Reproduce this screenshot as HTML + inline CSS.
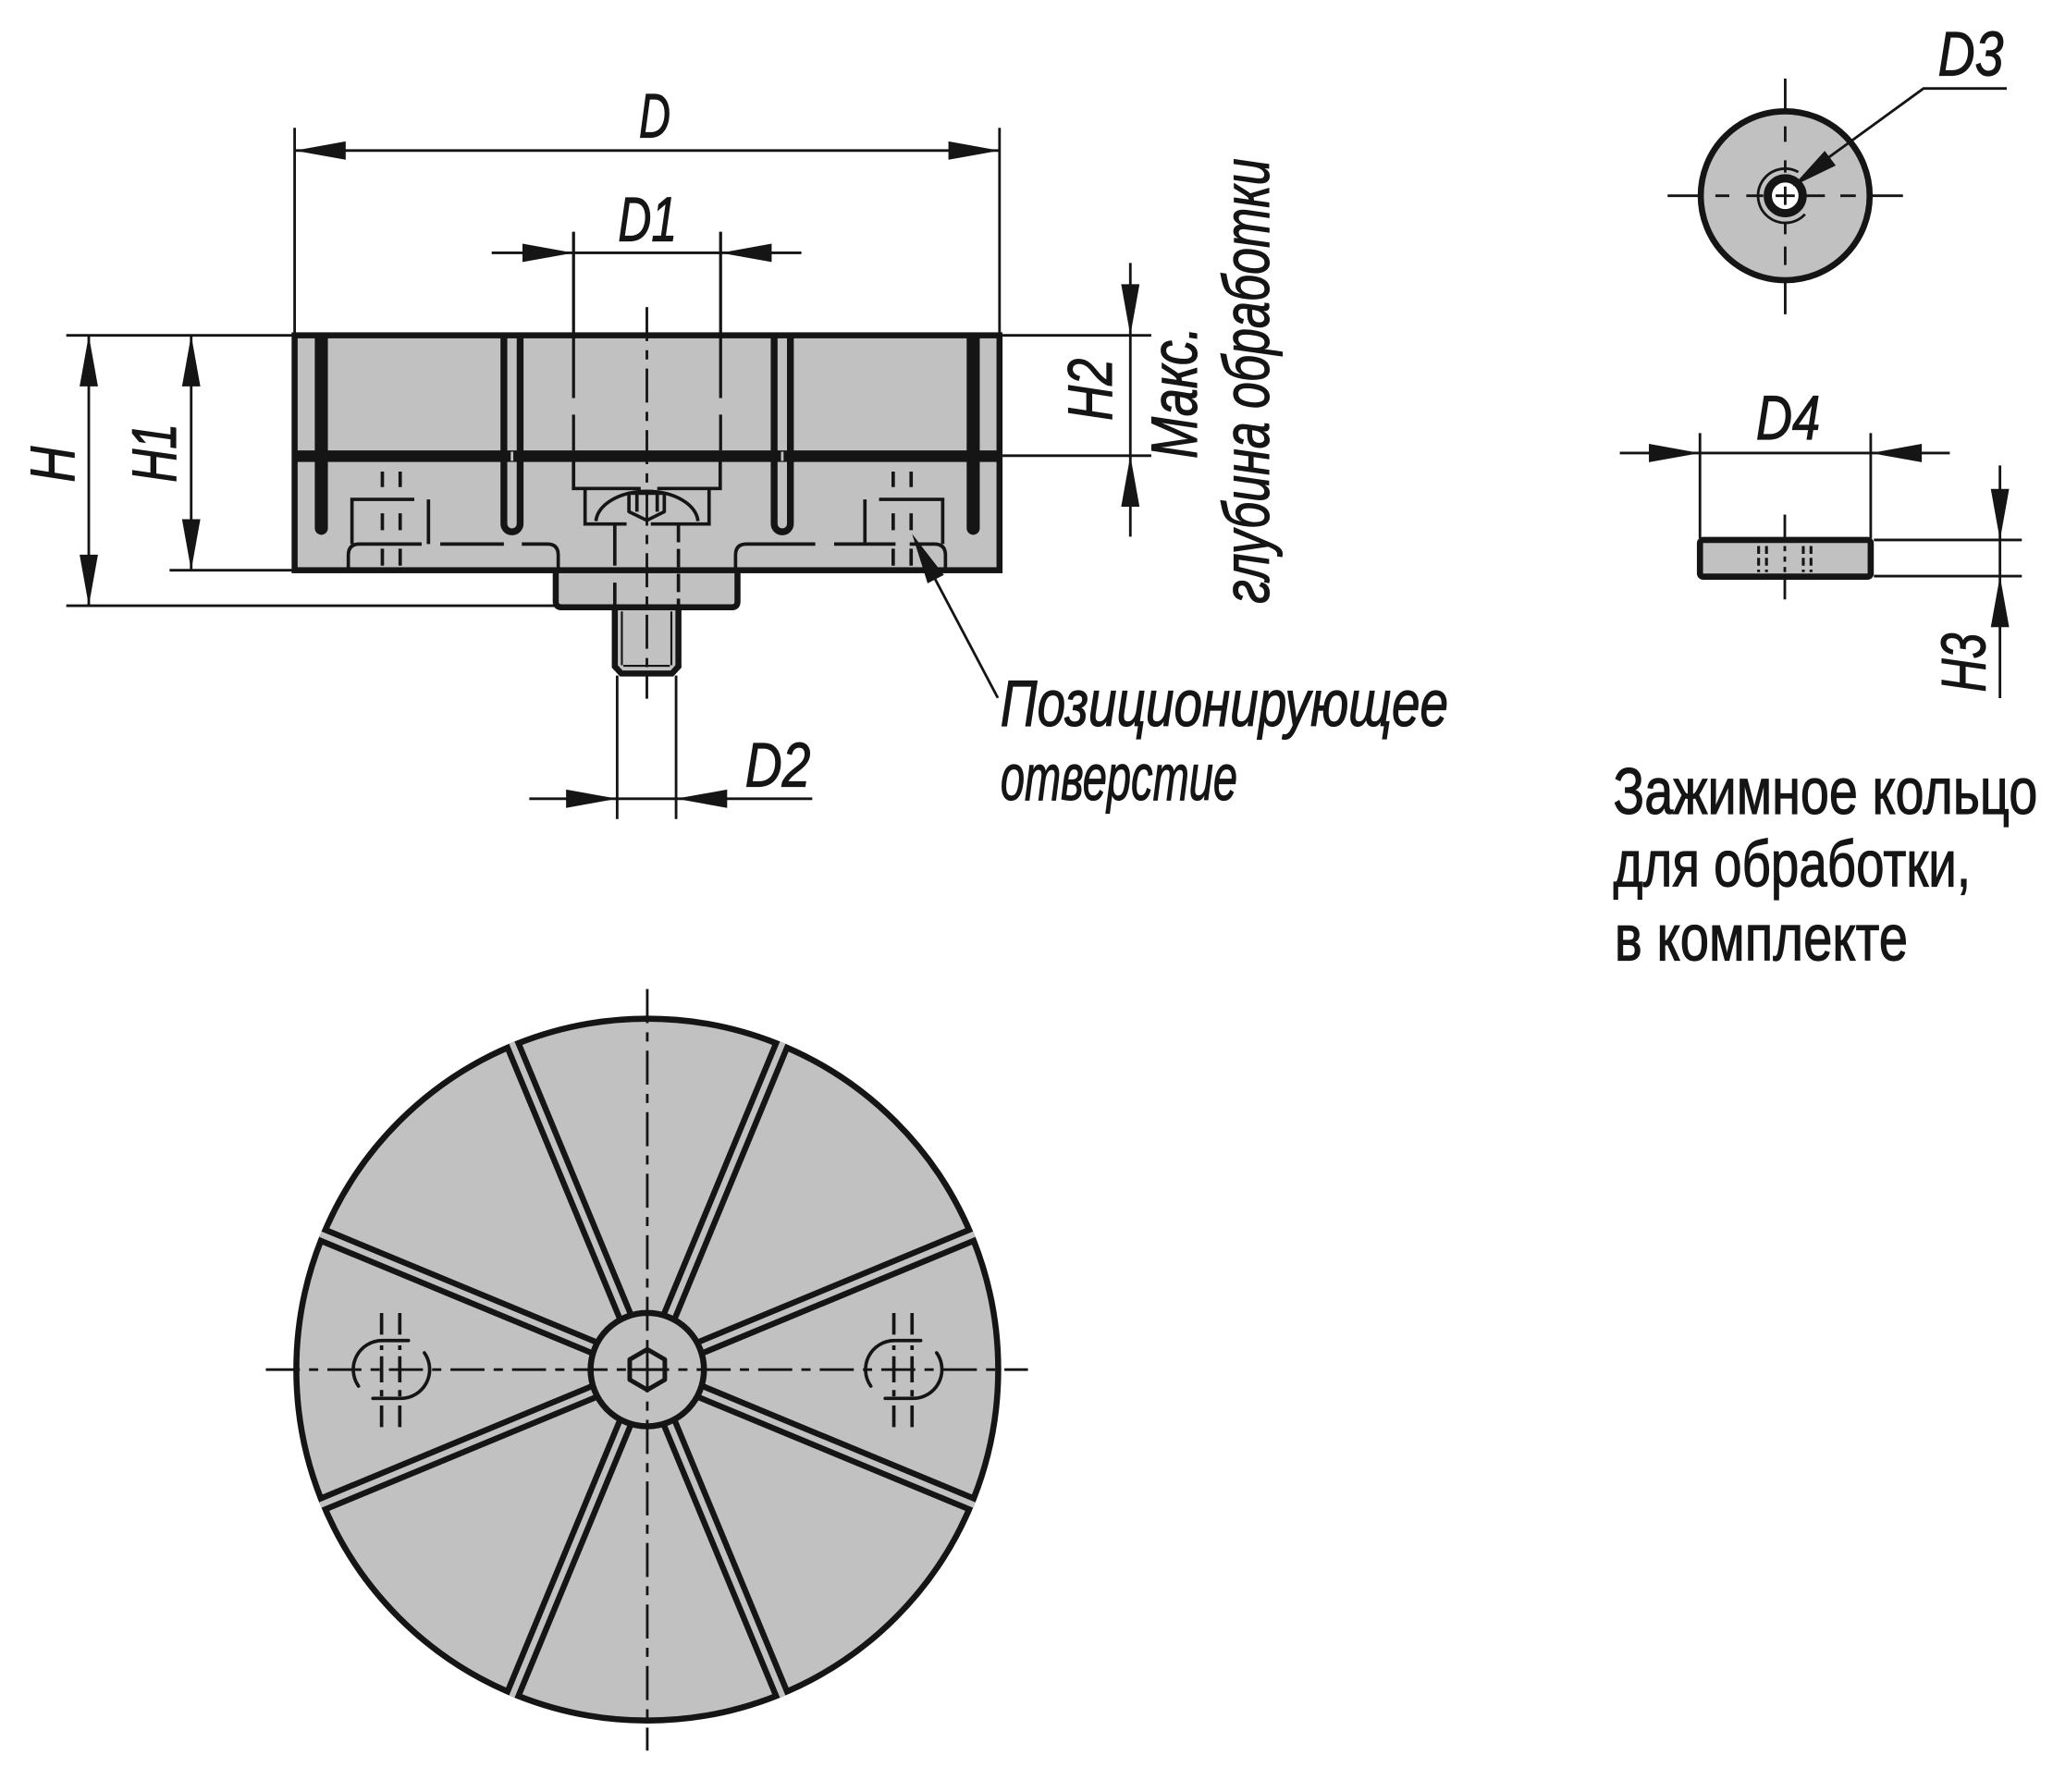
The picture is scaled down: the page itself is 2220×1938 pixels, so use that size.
<!DOCTYPE html>
<html><head><meta charset="utf-8"><style>
html,body{margin:0;padding:0;background:#fff}
svg{display:block}
</style></head><body>
<svg xmlns="http://www.w3.org/2000/svg" width="2220" height="1938" viewBox="0 0 1567.8 1368.6" preserveAspectRatio="none">
<style>
.o{stroke:#151515;stroke-width:4.6;fill:#c1c1c1}
.t{stroke:#151515;stroke-width:2;fill:none}
.h{stroke:#151515;stroke-width:2.6;fill:none}
.c{stroke:#151515;stroke-width:2;fill:none;stroke-dasharray:26 7 7 7}
.a{fill:#151515}
text{font-family:"Liberation Sans",Arial,sans-serif;font-size:48px;fill:#151515;stroke:#151515;stroke-width:0.8}
.i{font-style:italic}
.l{font-size:50px}
</style>

<!-- ===== SIDE VIEW ===== -->
<path class="o" d="M469.5 462 L469.5 509 L474.5 514.4 L513.1 514.4 L518.1 509 L518.1 462"/>
<path stroke="#151515" stroke-width="1.5" fill="none" d="M474.9 467 V508 M512.7 467 V508 M476 508.5 H511.5"/>
<path class="o" d="M424.4 434 L424.4 459.5 Q424.4 463.8 428.7 463.8 L558.9 463.8 Q563.2 463.8 563.2 459.5 L563.2 434"/>
<rect class="o" x="225" y="256.1" width="538.3" height="179.4"/>
<rect x="225" y="344" width="538.3" height="8.8" fill="#151515"/>
<!-- outer slots -->
<path class="a" d="M240.4 256 V403.4 A5 5 0 0 0 250.4 403.4 V256Z"/>
<path class="a" d="M738.2 256 V403.4 A5 5 0 0 0 748.2 403.4 V256Z"/>
<!-- inner slots -->
<path d="M384.8 257V400A6.2 6.2 0 0 0 397.2 400V257" stroke="#151515" stroke-width="5.2" fill="none"/>
<path d="M591.2 257V400A6.2 6.2 0 0 0 603.6 400V257" stroke="#151515" stroke-width="5.2" fill="none"/>
<line x1="391" y1="345" x2="391" y2="352" stroke="#c1c1c1" stroke-width="2"/>
<line x1="597.4" y1="345" x2="597.4" y2="352" stroke="#c1c1c1" stroke-width="2"/>
<!-- D1 lines -->
<path stroke="#151515" stroke-width="2.3" fill="none" d="M438 177 V304 M438 316.6 V344 M550.3 177 V304 M550.3 316.6 V344"/>
<!-- pocket below band -->
<path class="h" d="M438 352 V373.1 H489.3 M501.9 373.1 H550 V352"/>
<path class="h" d="M446.8 373.1 V400.2 H478.5 M497 400.2 H541.5 V373.1"/>
<!-- screw head -->
<path class="h" d="M455.1 398 A39 24 0 0 1 533 398"/>
<path d="M480.3 376.7 H507.3 V390.8 L494 397.4 L480.3 390.8Z" fill="#c1c1c1" stroke="#151515" stroke-width="2.6" stroke-linejoin="round"/>
<path class="h" d="M486.4 376.7 V390.8 M501.9 376.7 V390.8"/>
<!-- shank -->
<path class="h" d="M469.5 400.2 V432 M469.5 445 V463"/>
<path class="h" stroke-dasharray="14 5" d="M518.1 400.2 V463"/>
<!-- hidden locating holes -->
<path class="h" d="M268.8 415.5 V381.4 H316.4 M327.2 381.4 V415.5"/>
<path class="h" d="M292 360.2V372 M292 392V404.9 M292 419V432 M305.6 360.2V372 M305.6 392V404.9 M305.6 419V432"/>
<path class="h" d="M660.5 381.4 V415.5 M671.3 381.4 H719.9 V415.5"/>
<path class="h" d="M682.1 360.2V372 M682.1 392V404.9 M682.1 419V432 M695.8 360.2V372 M695.8 392V404.9 M695.8 419V432"/>
<!-- pockets hidden -->
<path class="h" d="M266 436 V424 Q266 415.5 274.5 415.5 H322 M336.2 415.5 H384.8 M398.5 415.5 H418 Q426.3 415.5 426.3 424 V436"/>
<path class="h" d="M561.7 436 V424 Q561.7 415.5 570 415.5 H622.6 M637 415.5 H683.9 M694.7 415.5 H713.5 Q722 415.5 722 424 V436"/>
<!-- axis -->
<line class="c" x1="494" y1="234.5" x2="494" y2="533.6"/>

<!-- leader Позиционирующее -->
<line class="t" x1="705" y1="425" x2="762" y2="533"/>
<polygon class="a" points="696.5,407.7 708.4,445.5 720.8,439.1"/>

<!-- D -->
<path class="t" d="M225 97.6 V256 M763.3 97.6 V256 M225 115 H763.3"/>
<polygon class="a" points="225,115 264,108 264,122"/>
<polygon class="a" points="763.3,115 724.3,108 724.3,122"/>
<!-- D1 -->
<path class="t" d="M375.5 193.1 H612"/>
<polygon class="a" points="438,193.1 399,186.1 399,200.1"/>
<polygon class="a" points="550.3,193.1 589.3,186.1 589.3,200.1"/>
<!-- D2 -->
<path class="t" d="M471.3 516 V625.5 M516.3 516 V625.5 M404.2 610 H620.3"/>
<polygon class="a" points="471.3,610 432.3,603 432.3,617"/>
<polygon class="a" points="516.3,610 555.3,603 555.3,617"/>
<!-- H, H1 -->
<path class="t" d="M50.6 256.1 H223 M50.6 462.6 H424.4 M129.5 435.5 H223 M67.8 256.1 V462.6 M146 256.1 V435.5"/>
<polygon class="a" points="67.8,256.1 60.8,295.1 74.8,295.1"/>
<polygon class="a" points="67.8,462.6 60.8,423.6 74.8,423.6"/>
<polygon class="a" points="146,256.1 139,295.1 153,295.1"/>
<polygon class="a" points="146,435.5 139,396.5 153,396.5"/>
<!-- H2 -->
<path class="t" d="M765.6 256.1 H879.2 M765.6 348 H879.2 M863.2 200.8 V409.9"/>
<polygon class="a" points="863.2,256.1 856.2,217.1 870.2,217.1"/>
<polygon class="a" points="863.2,348 856.2,387 870.2,387"/>

<!-- ===== TOP VIEW ===== -->
<circle class="o" cx="494.3" cy="1046" r="268"/>
<g transform="translate(494.3 1046)">
 <g transform="rotate(22.5)"><line x1="40" y1="0" x2="269.5" y2="0" stroke="#151515" stroke-width="13.5"/><line x1="40" y1="0" x2="270.3" y2="0" stroke="#c1c1c1" stroke-width="4.5"/></g>
 <g transform="rotate(67.5)"><line x1="40" y1="0" x2="269.5" y2="0" stroke="#151515" stroke-width="13.5"/><line x1="40" y1="0" x2="270.3" y2="0" stroke="#c1c1c1" stroke-width="4.5"/></g>
 <g transform="rotate(112.5)"><line x1="40" y1="0" x2="269.5" y2="0" stroke="#151515" stroke-width="13.5"/><line x1="40" y1="0" x2="270.3" y2="0" stroke="#c1c1c1" stroke-width="4.5"/></g>
 <g transform="rotate(157.5)"><line x1="40" y1="0" x2="269.5" y2="0" stroke="#151515" stroke-width="13.5"/><line x1="40" y1="0" x2="270.3" y2="0" stroke="#c1c1c1" stroke-width="4.5"/></g>
 <g transform="rotate(202.5)"><line x1="40" y1="0" x2="269.5" y2="0" stroke="#151515" stroke-width="13.5"/><line x1="40" y1="0" x2="270.3" y2="0" stroke="#c1c1c1" stroke-width="4.5"/></g>
 <g transform="rotate(247.5)"><line x1="40" y1="0" x2="269.5" y2="0" stroke="#151515" stroke-width="13.5"/><line x1="40" y1="0" x2="270.3" y2="0" stroke="#c1c1c1" stroke-width="4.5"/></g>
 <g transform="rotate(292.5)"><line x1="40" y1="0" x2="269.5" y2="0" stroke="#151515" stroke-width="13.5"/><line x1="40" y1="0" x2="270.3" y2="0" stroke="#c1c1c1" stroke-width="4.5"/></g>
 <g transform="rotate(337.5)"><line x1="40" y1="0" x2="269.5" y2="0" stroke="#151515" stroke-width="13.5"/><line x1="40" y1="0" x2="270.3" y2="0" stroke="#c1c1c1" stroke-width="4.5"/></g>
</g>
<circle class="o" cx="494.3" cy="1046" r="43.3"/>
<polygon points="494.3,1030.5 507.7,1038.25 507.7,1053.75 494.3,1061.5 480.9,1053.75 480.9,1038.25" fill="none" stroke="#151515" stroke-width="3.5" stroke-linejoin="round"/>
<path class="t" d="M480.9 1046 H507.7 M494.3 1030.5 V1061.5"/>
<line class="c" x1="203" y1="1046" x2="785" y2="1046"/>
<line class="c" x1="494.3" y1="755.4" x2="494.3" y2="1337"/>
<!-- locating holes top view -->
<g>
 <path class="h" stroke-width="2.4" d="M291.4 1002.8V1019.3 M291.4 1027.5V1031 M291.4 1035.8V1055.8 M291.4 1061.6V1066.4 M291.4 1073.4V1089.9 M305.3 1002.8V1019.3 M305.3 1027.5V1031 M305.3 1035.8V1055.8 M305.3 1061.6V1066.4 M305.3 1073.4V1089.9"/>
 <path class="h" stroke-width="2.4" stroke-linecap="round" d="M311.9 1023.8 L291.9 1023.8 A22.1 22.1 0 0 0 273.8 1058.6"/>
 <path class="h" stroke-width="2.4" stroke-linecap="round" d="M324.1 1033.2 A22.1 22.1 0 0 1 306 1068 L284.8 1068"/>
</g>
<g transform="translate(391.2 0)">
 <path class="h" stroke-width="2.4" d="M291.4 1002.8V1019.3 M291.4 1027.5V1031 M291.4 1035.8V1055.8 M291.4 1061.6V1066.4 M291.4 1073.4V1089.9 M305.3 1002.8V1019.3 M305.3 1027.5V1031 M305.3 1035.8V1055.8 M305.3 1061.6V1066.4 M305.3 1073.4V1089.9"/>
 <path class="h" stroke-width="2.4" stroke-linecap="round" d="M311.9 1023.8 L291.9 1023.8 A22.1 22.1 0 0 0 273.8 1058.6"/>
 <path class="h" stroke-width="2.4" stroke-linecap="round" d="M324.1 1033.2 A22.1 22.1 0 0 1 306 1068 L284.8 1068"/>
</g>

<!-- ===== RING TOP VIEW ===== -->
<circle cx="1363.3" cy="149.5" r="64.5" fill="#c1c1c1" stroke="#151515" stroke-width="4.7"/>
<path class="t" d="M1273.5 149.5 H1298 M1428.6 149.5 H1453.2 M1363.3 60 V85 M1363.3 214 V240"/>
<path class="t" d="M1310 149.5 H1320.6 M1333.6 149.5 H1346.5 M1379.5 149.5 H1393.6 M1405.4 149.5 H1417.2 M1363.3 96.5 V108.3 M1363.3 122.4 V131.8 M1363.3 169.5 V178.9 M1363.3 188.3 V202.4"/>
<circle cx="1363.3" cy="149.5" r="13.3" fill="#fff" stroke="#151515" stroke-width="6.3"/>
<path class="t" d="M1356 149.5 H1370.6 M1363.3 142.5 V156.5"/>
<path class="t" d="M1373.3 131.4 A20.7 20.7 0 1 0 1378.4 163.6"/>
<path class="t" d="M1395 121.3 L1468.9 67.6 H1532.5"/>
<polygon class="a" points="1368.9,142.4 1401.9,126.4 1393.5,115.2"/>

<!-- ===== RING SIDE VIEW ===== -->
<rect x="1298.2" y="412.4" width="130.4" height="28" rx="2.5" fill="#c1c1c1" stroke="#151515" stroke-width="4.7"/>
<path class="t" d="M1363 393 V411 M1363 442 V457.8 M1363 417 V421 M1363 425 V429 M1363 433 V437"/>
<path stroke="#151515" stroke-width="2.2" fill="none" stroke-dasharray="6 3" d="M1343 417 V437 M1349 417 V437 M1377.1 417 V437 M1383 417 V437"/>
<path class="t" d="M1298.2 330.8 V411 M1428.6 330.8 V411 M1237 346 H1489"/>
<polygon class="a" points="1298.2,346 1259.2,339 1259.2,353"/>
<polygon class="a" points="1428.6,346 1467.6,339 1467.6,353"/>
<path class="t" d="M1431 412.4 H1544 M1431 440 H1544 M1527.3 355.5 V533.2"/>
<polygon class="a" points="1527.3,412.4 1520.3,373.4 1534.3,373.4"/>
<polygon class="a" points="1527.3,440 1520.3,479 1534.3,479"/>

<!-- ===== TEXT ===== -->
<text class="i" x="488" y="105" textLength="24" lengthAdjust="spacingAndGlyphs">D</text>
<text class="i" x="472" y="184.1" textLength="45" lengthAdjust="spacingAndGlyphs">D1</text>
<text class="i" x="569" y="600.5" textLength="50" lengthAdjust="spacingAndGlyphs">D2</text>
<text class="i" x="1480" y="57.7" textLength="50" lengthAdjust="spacingAndGlyphs">D3</text>
<text class="i" x="1341" y="335.5" textLength="49" lengthAdjust="spacingAndGlyphs">D4</text>
<text class="i" transform="translate(56.5 368.4) rotate(-90)" x="0" y="0" textLength="27.5" lengthAdjust="spacingAndGlyphs">H</text>
<text class="i" transform="translate(134.2 368.4) rotate(-90)" x="0" y="0" textLength="45" lengthAdjust="spacingAndGlyphs">H1</text>
<text class="i" transform="translate(849 321.2) rotate(-90)" x="0" y="0" textLength="47.5" lengthAdjust="spacingAndGlyphs">H2</text>
<text class="i" transform="translate(1516 528.5) rotate(-90)" x="0" y="0" textLength="45" lengthAdjust="spacingAndGlyphs">H3</text>
<text class="i l" transform="translate(914 350.3) rotate(-90)" x="0" y="0" textLength="101" lengthAdjust="spacingAndGlyphs">Макс.</text>
<text class="i l" transform="translate(969 461) rotate(-90)" x="0" y="0" textLength="340" lengthAdjust="spacingAndGlyphs">глубина обработки</text>
<text class="i l" x="764" y="554.4" textLength="342" lengthAdjust="spacingAndGlyphs">Позиционирующее</text>
<text class="i l" x="764" y="610.9" textLength="181" lengthAdjust="spacingAndGlyphs">отверстие</text>
<text class="l" x="1232" y="621.5" textLength="324" lengthAdjust="spacingAndGlyphs">Зажимное кольцо</text>
<text class="l" x="1232" y="676.8" textLength="273" lengthAdjust="spacingAndGlyphs">для обработки,</text>
<text class="l" x="1233" y="733.3" textLength="224" lengthAdjust="spacingAndGlyphs">в комплекте</text>
</svg>
</body></html>
